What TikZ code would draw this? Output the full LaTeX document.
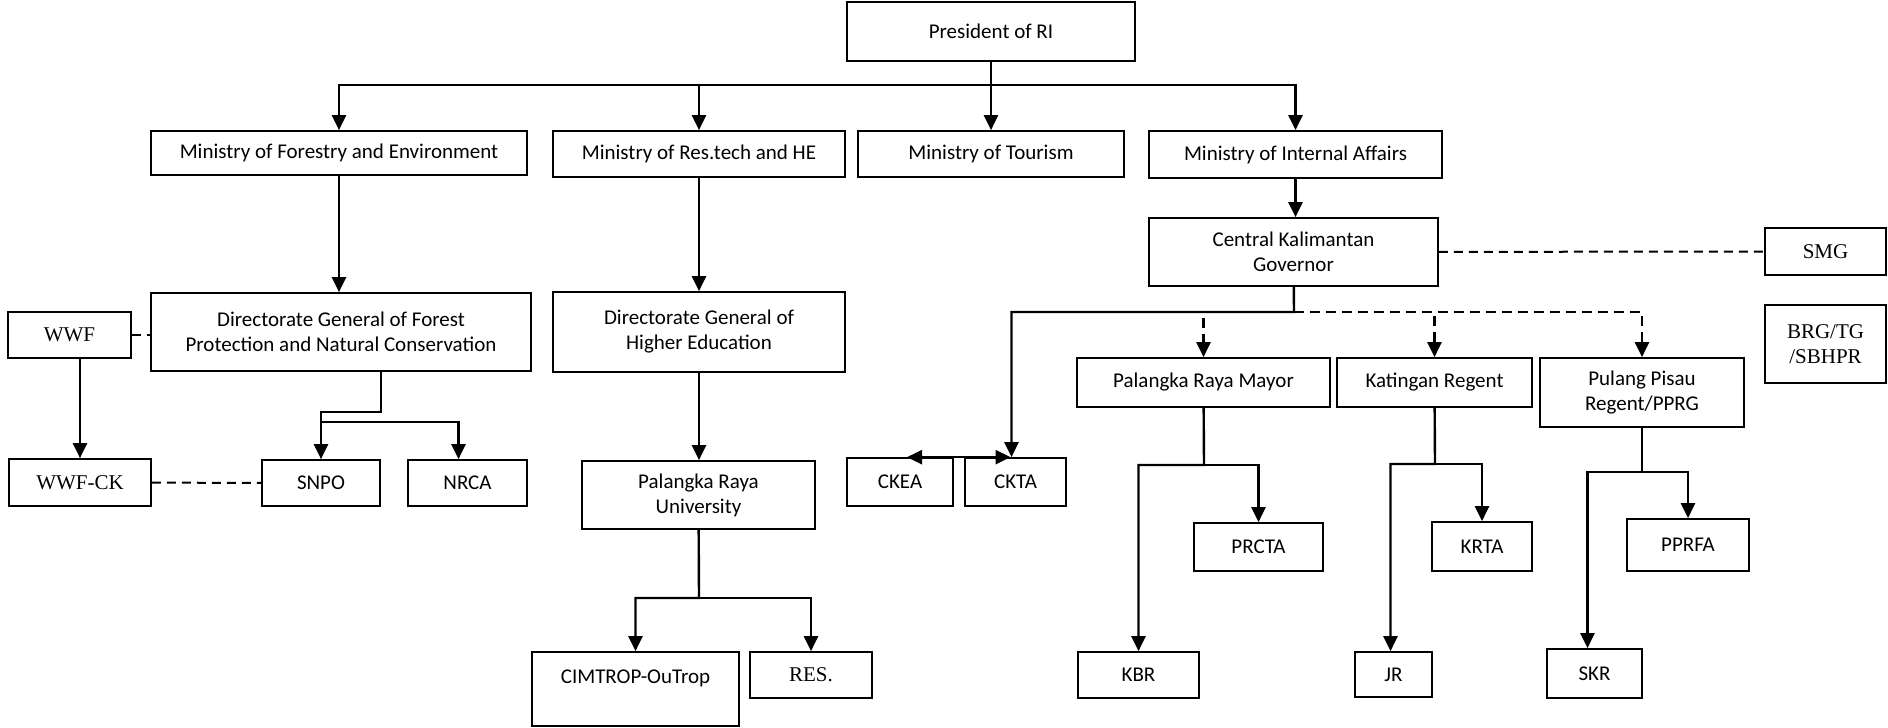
\documentclass[tikz,border=0pt]{standalone}
\usepackage{fontspec}
\setmainfont{Carlito}
\newfontfamily\tnr{Liberation Serif}
\usetikzlibrary{arrows.meta}

\tikzset{
  org/.style 2 args={draw,line width=1.7pt,inner sep=2pt,minimum width=#1pt,minimum height=#2pt,align=center,font=\fontsize{21}{25}\selectfont},
  tms/.style={font=\fontsize{21}{25}\selectfont\tnr},
  arr/.style={line width=2.4pt,-{Triangle[length=15pt,width=14pt]}},
  arrtwo/.style={line width=2.6pt,{Triangle[length=15pt,width=14pt]}-{Triangle[length=15pt,width=14pt]}},
  darr/.style={arr,dash pattern=on 10pt off 6pt},
  link/.style={line width=2pt,dash pattern=on 9pt off 6pt},
}

\begin{document}
\begin{tikzpicture}[x=1pt,y=-1pt]
\useasboundingbox (0,0) rectangle (1888,728);
% top and ministries
\node[org={288}{59}] (pres) at (991,31.5) {President of RI};
\node[org={376}{44}] (mfe) at (339,153) {Ministry of Forestry and Environment};
\node[org={292}{46}] (mrt) at (699,154) {Ministry of Res.tech and HE};
\node[org={266}{46}] (mtour) at (991,154) {Ministry of Tourism};
\node[org={293}{47}] (mia) at (1295.5,154.5) {Ministry of Internal Affairs};
% forestry branch
\node[org={380}{78}] (dgf) at (341,332) {Directorate General of Forest\\Protection and Natural Conservation};
\node[org={123}{46},tms] (wwf) at (69.5,335) {WWF};
\node[org={142}{47},tms] (wwfck) at (80,482.5) {WWF-CK};
\node[org={118}{46}] (snpo) at (321,483) {SNPO};
\node[org={119}{46}] (nrca) at (467.5,483) {NRCA};
% higher education branch
\node[org={292}{80}] (dghe) at (699,332) {Directorate General of\\Higher Education};
\node[org={233}{68}] (pru) at (698.5,495) {Palangka Raya\\University};
\node[org={207}{74}] (cim) at (635.5,689) {CIMTROP-OuTrop\\\mbox{}};
\node[org={122}{46},tms] (res) at (811,675) {RES.};
% governor branch
\node[org={289}{68}] (gov) at (1293.5,252) {Central Kalimantan\\Governor};
\node[org={121}{47},tms] (smg) at (1825.5,251.5) {SMG};
\node[org={121}{78},tms] (brg) at (1825.5,344) {BRG/TG\\/SBHPR};
\node[org={106}{48}] (ckea) at (900,482) {CKEA};
\node[org={101}{48}] (ckta) at (1015.5,482) {CKTA};
\node[org={253}{49}] (mayor) at (1203.5,382.5) {Palangka Raya Mayor};
\node[org={195}{49}] (kat) at (1434.5,382.5) {Katingan Regent};
\node[org={204}{69}] (ppg) at (1642,392.5) {Pulang Pisau\\Regent/PPRG};
\node[org={129}{48}] (prcta) at (1258.5,547) {PRCTA};
\node[org={121}{46}] (kbr) at (1138.5,675) {KBR};
\node[org={100}{49}] (krta) at (1482,546.5) {KRTA};
\node[org={77}{45}] (jr) at (1393.5,674.5) {JR};
\node[org={122}{52}] (pprfa) at (1688,545) {PPRFA};
\node[org={95}{49}] (skr) at (1594.5,673.5) {SKR};

% connectors
\coordinate (bus) at (991,85);
\draw[arr] (pres) -- (mtour);
\draw[arr] (bus) -| (mfe);
\draw[arr] (bus) -| (mia);
\draw[arr] (mrt.north |- bus) -- (mrt);
\draw[arr] (mfe) -- (mfe |- dgf.north);
\draw[arr] (mrt) -- (mrt |- dghe.north);
\draw[arr] (mia) -- (mia |- gov.north);
\draw[arr] (dghe) -- (dghe |- pru.north);

\coordinate (fk) at (321,412);
\coordinate (fk2) at (321,422);
\draw[arr] (dgf.south -| snpo.east) |- (fk) -- (snpo);
\draw[arr] (fk2) -| ([xshift=-9pt]nrca.north);
\draw[link] (wwf) -- (wwf -| dgf.west);
\draw[arr] (wwfck |- wwf.south) -- (wwfck);
\draw[link] (wwfck) -- (snpo);

\coordinate (pk) at (699,598);
\draw[arr] (pru) -- (pk) -| (cim);
\draw[arr] (pk) -| (res);

\coordinate (gk) at (1294,312);
\draw[arr] (gov) -- (gk) -| ([xshift=-4pt]ckta.north);
\draw[arrtwo] ([xshift=7pt]ckea.north) -- ([xshift=-5pt]ckta.north);
\draw[link] (gov) -- (smg);
\draw[darr] (gk) -| (mayor);
\draw[darr] (gk) -| (kat);
\draw[darr] (gk) -| (ppg);

\coordinate (mk) at (1204,465);
\draw[arr] (mayor) -- (mk) -| (kbr);
\draw[arr] (mk) -| (prcta);
\coordinate (kk) at (1435,464);
\draw[arr] (kat) -- (kk) -| ([xshift=-3pt]jr.north);
\draw[arr] (kk) -| (krta);
\coordinate (qk) at (1642,472);
\draw[arr] (ppg) -- (qk) -| ([xshift=-7pt]skr.north);
\draw[arr] (qk) -| (pprfa);
\end{tikzpicture}
\end{document}
